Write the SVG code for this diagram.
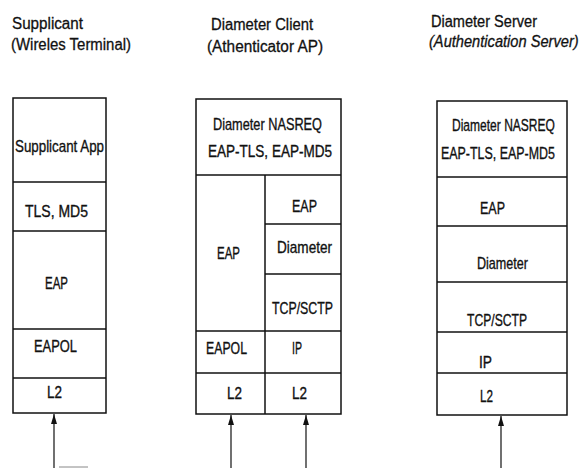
<svg xmlns="http://www.w3.org/2000/svg" width="585" height="468" viewBox="0 0 585 468">
<defs>
<style>
.t{font-family:"Liberation Sans",Arial,sans-serif;font-size:17px;fill:#111;stroke:#111;stroke-width:0.35;}
.h{font-family:"Liberation Sans",Arial,sans-serif;font-size:16px;fill:#111;stroke:#111;stroke-width:0.3;}
.b{fill:#fff;stroke:#111;stroke-width:1.5;}
.l{stroke:#111;stroke-width:1.5;fill:none;}
.c{stroke:#111;stroke-width:1.2;fill:none;}
</style>
<marker id="ah" viewBox="0 0 10 6" refX="10" refY="3" markerWidth="10" markerHeight="6" orient="auto" markerUnits="userSpaceOnUse">
<path d="M0,0 L10,3 L0,6 z" fill="#111"/>
</marker>
</defs>
<rect width="585" height="468" fill="#fff"/>

<g id="titles">
<text class="h" x="12" y="29" textLength="71" lengthAdjust="spacingAndGlyphs">Supplicant</text>
<text class="h" x="11" y="50" textLength="120" lengthAdjust="spacingAndGlyphs">(Wireles Terminal)</text>
<text class="h" x="211" y="30" textLength="102" lengthAdjust="spacingAndGlyphs">Diameter Client</text>
<text class="h" x="207" y="52" textLength="116" lengthAdjust="spacingAndGlyphs">(Athenticator AP)</text>
<text class="h" x="431" y="27" textLength="106" lengthAdjust="spacingAndGlyphs">Diameter Server</text>
<text class="h" transform="translate(429,47) scale(0.915,1)" font-style="italic">(Authentication Server)</text>
</g>

<g id="supplicant">
<rect class="b" x="13" y="98" width="93" height="315"/>
<line class="l" x1="13" y1="182" x2="106" y2="182"/>
<line class="l" x1="13" y1="231" x2="106" y2="231"/>
<line class="l" x1="13" y1="329" x2="106" y2="329"/>
<line class="l" x1="13" y1="378" x2="106" y2="378"/>
<text class="t" x="15" y="152" textLength="89" lengthAdjust="spacingAndGlyphs">Supplicant App</text>
<text class="t" x="25" y="217" textLength="63" lengthAdjust="spacingAndGlyphs">TLS, MD5</text>
<text class="t" x="45" y="289" textLength="23" lengthAdjust="spacingAndGlyphs">EAP</text>
<text class="t" x="34" y="352" textLength="43" lengthAdjust="spacingAndGlyphs">EAPOL</text>
<text class="t" x="47" y="398" textLength="15" lengthAdjust="spacingAndGlyphs">L2</text>
</g>

<g id="client">
<rect class="b" x="196" y="99" width="145" height="315"/>
<line class="l" x1="196" y1="175" x2="341" y2="175"/>
<line class="l" x1="265" y1="175" x2="265" y2="414"/>
<line class="l" x1="265" y1="224" x2="341" y2="224"/>
<line class="l" x1="265" y1="274" x2="341" y2="274"/>
<line class="l" x1="196" y1="331" x2="341" y2="331"/>
<line class="l" x1="196" y1="373" x2="341" y2="373"/>
<text class="t" x="213" y="130" textLength="109" lengthAdjust="spacingAndGlyphs">Diameter NASREQ</text>
<text class="t" x="208" y="157" textLength="124" lengthAdjust="spacingAndGlyphs">EAP-TLS, EAP-MD5</text>
<text class="t" x="292" y="212" textLength="25" lengthAdjust="spacingAndGlyphs">EAP</text>
<text class="t" x="217" y="259" textLength="23" lengthAdjust="spacingAndGlyphs">EAP</text>
<text class="t" x="277" y="253" textLength="55" lengthAdjust="spacingAndGlyphs">Diameter</text>
<text class="t" x="272" y="314" textLength="61" lengthAdjust="spacingAndGlyphs">TCP/SCTP</text>
<text class="t" x="206" y="354" textLength="41" lengthAdjust="spacingAndGlyphs">EAPOL</text>
<text class="t" x="292" y="354" textLength="10" lengthAdjust="spacingAndGlyphs">IP</text>
<text class="t" x="227" y="399" textLength="15" lengthAdjust="spacingAndGlyphs">L2</text>
<text class="t" x="292" y="399" textLength="15" lengthAdjust="spacingAndGlyphs">L2</text>
</g>

<g id="server">
<rect class="b" x="437" y="101" width="130" height="314"/>
<line class="l" x1="437" y1="177" x2="567" y2="177"/>
<line class="l" x1="437" y1="226" x2="567" y2="226"/>
<line class="l" x1="437" y1="282" x2="567" y2="282"/>
<line class="l" x1="437" y1="332" x2="567" y2="332"/>
<line class="l" x1="437" y1="373" x2="567" y2="373"/>
<text class="t" transform="translate(452,131) scale(0.708,1)">Diameter NASREQ</text>
<text class="t" transform="translate(441,159) scale(0.732,1)">EAP-TLS, EAP-MD5</text>
<text class="t" x="480" y="214" textLength="25" lengthAdjust="spacingAndGlyphs">EAP</text>
<text class="t" x="477" y="269" textLength="51" lengthAdjust="spacingAndGlyphs">Diameter</text>
<text class="t" x="467" y="326" textLength="60" lengthAdjust="spacingAndGlyphs">TCP/SCTP</text>
<text class="t" x="479" y="368" textLength="13" lengthAdjust="spacingAndGlyphs">IP</text>
<text class="t" x="480" y="402" textLength="13" lengthAdjust="spacingAndGlyphs">L2</text>
</g>

<g id="connectors">
<line class="c" x1="54" y1="468" x2="54" y2="414" marker-end="url(#ah)"/>
<line x1="59" y1="467" x2="88" y2="467" stroke="#888" stroke-width="1"/>
<line class="c" x1="231" y1="468" x2="231" y2="415" marker-end="url(#ah)"/>
<line class="c" x1="306" y1="468" x2="306" y2="415" marker-end="url(#ah)"/>
<line class="c" x1="501" y1="468" x2="501" y2="416" marker-end="url(#ah)"/>
</g>
</svg>
